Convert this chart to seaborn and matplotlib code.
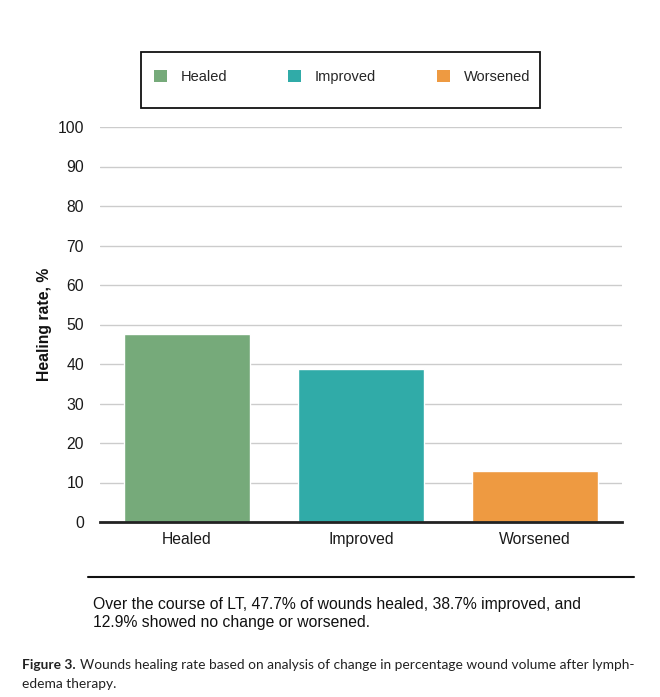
import pandas as pd
import numpy as np
import matplotlib.pyplot as plt
import seaborn as sns
from matplotlib.patches import Patch, Rectangle
from matplotlib.lines import Line2D

categories = ["Healed", "Improved", "Worsened"]
rates = [47.7, 38.7, 12.9]
colors = ["#76AA7A", "#30ABA8", "#EE9A41"]
yticks = list(range(0, 101, 10))

df = pd.DataFrame({"status": categories, "rate": rates})

sns.set_style("white")
plt.rcParams['font.family'] = ['Liberation Sans', 'DejaVu Sans']

W, H = 660, 697
fig = plt.figure(figsize=(W / 100, H / 100), dpi=100)
ax = fig.add_axes([100 / W, 1 - 522 / H, 522 / W, 395 / H])

sns.barplot(data=df, x="status", y="rate", hue="status", palette=colors,
            width=0.72, saturation=1, legend=False, ax=ax, zorder=3)

ax.set_ylim(0, 100)
ax.set_yticks(yticks)
ax.set_xlim(-0.5, 2.5)
ax.grid(axis='y', color='#cccccc', linewidth=1, zorder=0)
for s in ["top", "right", "left"]:
    ax.spines[s].set_visible(False)
ax.spines["bottom"].set_color("#222222")
ax.spines["bottom"].set_linewidth(2)
ax.spines["bottom"].set_zorder(4)
ax.tick_params(axis='both', length=0, labelsize=11.3, colors="#1a1a1a")
ax.tick_params(axis='y', pad=11.5)
ax.tick_params(axis='x', pad=7)
ax.set_xlabel("")
ax.set_ylabel("Healing rate, %", fontsize=11.3, fontweight='bold',
              color="#111111", labelpad=4)

# legend box
fig.add_artist(Rectangle((141 / W, 1 - 108 / H), 399 / W, 56 / H,
                         transform=fig.transFigure, fill=False,
                         edgecolor='#111111', linewidth=1.3))
handles = [Patch(facecolor=c, edgecolor='none') for c in colors]
leg = fig.legend(handles, categories, loc='center', ncol=3, mode='expand',
                 bbox_to_anchor=(154 / W, 1 - 97 / H, 376 / W, 40 / H),
                 frameon=False, fontsize=10.5, borderpad=0, borderaxespad=0,
                 handlelength=0.9, handleheight=0.9, handletextpad=0.9)

fig.add_artist(Line2D([88 / W, 634 / W], [1 - 577 / H, 1 - 577 / H],
                      color='#111111', linewidth=1.5))
fig.text(93 / W, 1 - 604 / H, "Over the course of LT, 47.7% of wounds healed, 38.7% improved, and",
         fontsize=11.35, va='center', color='#111111')
fig.text(93 / W, 1 - 623 / H, "12.9% showed no change or worsened.",
         fontsize=11.35, va='center', color='#111111')

cap_font = ['Lato', 'DejaVu Sans']
t1 = fig.text(22 / W, 1 - 665 / H, "Figure 3.", fontsize=9.9, fontweight='bold',
              family=cap_font, va='center', color='#222222')
r = fig.canvas.get_renderer()
x_end = t1.get_window_extent(r).x1
fig.text((x_end + 4) / W, 1 - 665 / H,
         "Wounds healing rate based on analysis of change in percentage wound volume after lymph-",
         fontsize=9.9, family=cap_font, va='center', color='#222222')
fig.text(22 / W, 1 - 684 / H, "edema therapy.", fontsize=9.9,
         family=cap_font, va='center', color='#222222')

fig.savefig("out.png", dpi=100)
